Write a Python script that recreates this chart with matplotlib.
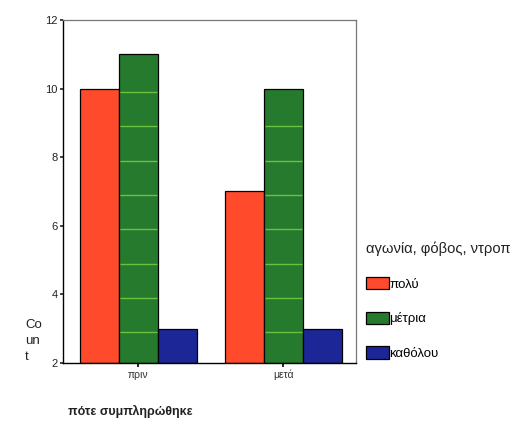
import numpy as np
import matplotlib.pyplot as plt
from matplotlib.patches import Patch

plt.rcParams['font.family'] = ['Liberation Sans', 'DejaVu Sans']

# data
groups = ['πριν', 'μετά']
series = ['πολύ', 'μέτρια', 'καθόλου']
polu = [10, 7]
metria = [11, 10]
katholou = [3, 3]
colors = ['#ff4b2b', '#267a2e', '#1d2696']
stripe_color = '#6cc040'

fig = plt.figure(figsize=(5.17, 4.24), dpi=100)
ax = fig.add_axes([0.1219, 0.1439, 0.5667, 0.809])

x = np.arange(len(groups))
w = 0.27
base = 2
values = [polu, metria, katholou]
for i, vals in enumerate(values):
    pos = x + (i - 1) * w
    heights = np.array(vals) - base
    ax.bar(pos, heights, w, bottom=base, color=colors[i],
           edgecolor='black', linewidth=0.9, zorder=2)
    if i == 1:  # green bars have light stripes
        for p, v in zip(pos, vals):
            lines = np.arange(base + 1, v) - 0.1
            ax.hlines(lines, p - w / 2 + 0.01, p + w / 2 - 0.01,
                      color=stripe_color, linewidth=1.0, zorder=3)

ax.set_xlim(-0.52, 1.5)
ax.set_ylim(2, 12)
ax.set_yticks([2, 4, 6, 8, 10, 12])
ax.set_xticks(x)
ax.set_xticklabels(groups, fontsize=7.5, color='#333333')
ax.tick_params(axis='y', labelsize=8, length=2.5, width=1.2, pad=1.5, colors='#222222')
ax.tick_params(axis='x', length=3, width=1.2, pad=2)

for s in ['top', 'right']:
    ax.spines[s].set_color('#777777')
    ax.spines[s].set_linewidth(0.9)
for s in ['left', 'bottom']:
    ax.spines[s].set_color('black')
    ax.spines[s].set_linewidth(1.0)

fig.text(25 / 517, 1 - 341 / 424, 'Co\nun\nt', fontsize=9.5, ha='left', va='center',
         linespacing=1.45, color='#222222')
fig.text(68 / 517, 1 - 411 / 424, 'πότε συμπληρώθηκε', fontsize=9,
         fontweight='bold', ha='left', va='center', color='#222222')

handles = [Patch(facecolor=c, edgecolor='black', linewidth=0.9) for c in colors]
leg = fig.legend(handles, series, loc='upper left',
                 bbox_to_anchor=(361 / 517, 1 - 236 / 424),
                 title='αγωνία, φόβος, ντροπ', title_fontsize=10.6,
                 fontsize=9.5, frameon=False, alignment='left',
                 handlelength=1.7, handleheight=1.05, handletextpad=0.05,
                 labelspacing=1.6, borderaxespad=0)
leg.get_title().set_color('#222222')

fig.savefig('out.png', dpi=100)
